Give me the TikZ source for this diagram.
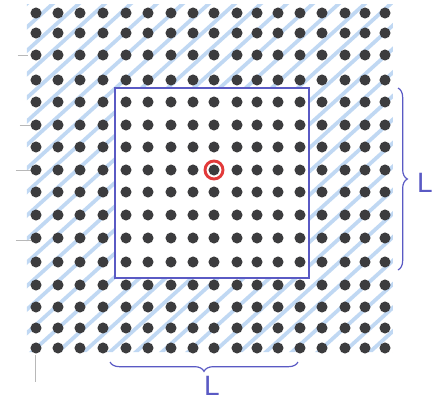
\documentclass[tikz,border=0pt]{standalone}
\usepackage{fontspec}
\setsansfont{Liberation Sans}
\usetikzlibrary{decorations.pathreplacing}
\definecolor{dotgray}{HTML}{3C3C3E}
\definecolor{hatchblue}{HTML}{A6C8EE}
\definecolor{penblue}{HTML}{5A5AC4}
\definecolor{ringred}{HTML}{E23A3A}
\definecolor{pencil}{HTML}{B8B8B8}
\tikzset{
  dot/.style={circle, fill=dotgray, inner sep=0pt, minimum size=8.3pt},
  redring/.style={circle, draw=ringred, line width=2.2pt, inner sep=0pt, minimum size=13.5pt},
  hatchline/.style={hatchblue, line width=2.8pt, opacity=0.7},
  boxline/.style={penblue, line width=1.1pt},
  bracel/.style={penblue, line width=0.9pt, decorate, decoration={brace, amplitude=7pt}},
  lbl/.style={text=penblue, font=\sffamily\fontsize{21}{21}\selectfont, inner sep=0pt},
  pencilline/.style={pencil, line width=0.5pt}
}
\begin{document}
\begin{tikzpicture}[x=0.75pt,y=-0.75pt]
\fill[white] (0,0) rectangle (437,400);
\useasboundingbox (0,0) rectangle (437,400);
% hatching outside the box
\begin{scope}[even odd rule]
  \clip (27,4) rectangle (393,352) (115,88) rectangle (309,278);
  \foreach \k in {-430,-404,...,450}
    \draw[hatchline] (\k,370) -- ++(420,-380);
\end{scope}
% pencil marks
\draw[pencilline] (18,55) -- (28,55);
\draw[pencilline] (20,125) -- (30,125);
\draw[pencilline] (16,170) -- (32,170);
\draw[pencilline] (16,240) -- (32,240);
\draw[pencilline] (35,355) -- (35,382);
% dots
\foreach \c [count=\i] in {36,58,80,103,126,148,171,193,214,237,257,278,300,322,345,365,385}
  \foreach \r [count=\j] in {13,33,55,80,102,125,147,170,192,215,238,262,285,307,328,348}
    \node[dot] (d\i-\j) at (\c,\r) {};
% box
\draw[boxline] (115,88) rectangle (309,278);
% red ring around the centre dot
\node[redring] (ring) at (d9-8) {};
% braces
\coordinate (rb1) at (398,88);
\coordinate (rb2) at (398,270);
\coordinate (bb1) at (298,362);
\coordinate (bb2) at (110,362);
\draw[bracel] (rb1) -- (rb2);
\draw[bracel] (bb1) -- (bb2);
\node[lbl] (L1) at (425,183) {L};
\node[lbl] (L2) at (212,386) {L};
\end{tikzpicture}
\end{document}
